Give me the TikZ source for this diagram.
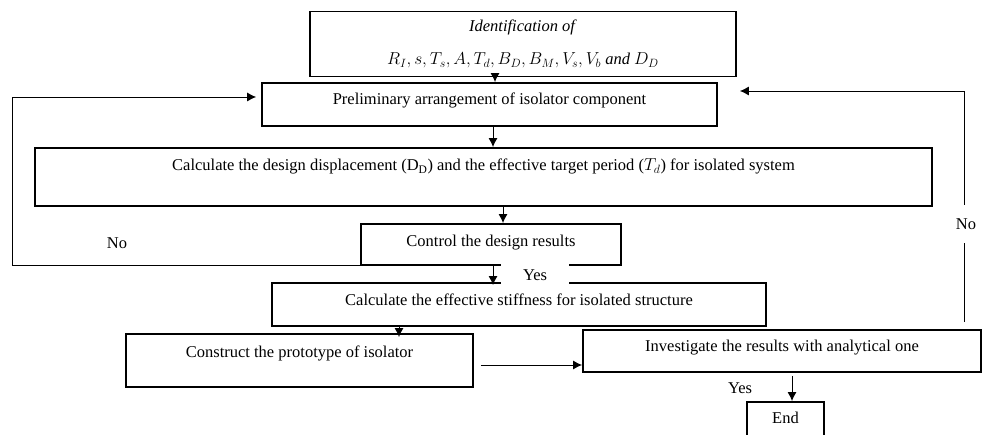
\documentclass[tikz,border=0pt]{standalone}
\usepackage{fontspec}
\setmainfont{Liberation Serif}
\usetikzlibrary{arrows.meta}

\begin{document}
\begin{tikzpicture}[x=1pt, y=-1pt]
        \tikzstyle{every node}=[font=\fontsize{16.5}{19.5}\selectfont, inner sep=0pt]
        \tikzstyle{stepbox}=[draw, line width=1.8pt, anchor=base]
        \tikzstyle{flowarrow}=[line width=1pt, -{Latex[length=9pt,width=9pt]}]
        \tikzstyle{loopline}=[line width=0.8pt, -{Latex[length=9pt,width=9pt]}]
        \tikzstyle{answer}=[fill=white]

        \useasboundingbox (0,0) rectangle (982,435);

% Design steps of the isolator, with the two checks sending back to the arrangement.

        \node[draw, line width=1.8pt, minimum width=426pt, minimum height=65pt, align=center] (ident) at (523,44)
            {\textit{Identification of}\\[14pt] $R_I, s, T_s, A, T_d, B_D, B_M, V_s, V_b$ \textit{and} $D_D$};
        \node[stepbox, minimum width=455pt, text height=22pt, text depth=21pt] (prelim) at (489.5,105)
            {Preliminary arrangement of isolator component};
        \node[stepbox, minimum width=897pt, text height=23pt, text depth=35pt] (calc) at (483.5,171)
            {Calculate the design displacement (D\textsubscript{D}) and the effective target period ($T_d$) for isolated system};
        \node[stepbox, minimum width=260pt, text height=23pt, text depth=18pt] (control) at (491,247)
            {Control the design results};
        \node[stepbox, minimum width=494pt, text height=23pt, text depth=20pt] (stiff) at (519,306)
            {Calculate the effective stiffness for isolated structure};
        \node[stepbox, minimum width=347pt, text height=24pt, text depth=29pt] (proto) at (299.5,358)
            {Construct the prototype of isolator};
        \node[stepbox, minimum width=398pt, text height=22pt, text depth=20pt] (invest) at (782,352)
            {Investigate the results with analytical one};
        \node[stepbox, minimum width=77pt, text height=21pt, text depth=30pt] (endbox) at (785.5,423)
            {End};

        \draw[flowarrow] ([xshift=-28]ident.south) -- ([xshift=5.5]prelim.north);
        \draw[flowarrow] ([xshift=3.5]prelim.south) -- ([xshift=9.5]calc.north);
        \draw[flowarrow] ([xshift=19.5]calc.south) -- ([xshift=12]control.north);
        \draw[flowarrow] ([xshift=2]control.south) -- ([xshift=-26,yshift=-3]stiff.north);
        \draw[flowarrow] ([xshift=-120]stiff.south) -- ([xshift=99.5,yshift=-4]proto.north);
        \draw[flowarrow] ([xshift=7,yshift=-4.5]proto.east) -- ([yshift=-14]invest.west);
        \draw[flowarrow] ([xshift=10,yshift=-3]invest.south) -- ([xshift=6.5]endbox.north);

        \coordinate (leftrail) at (12,97);
        \draw[loopline] (control.south west) -| (leftrail) -- ([xshift=-5,yshift=7.5]prelim.west);
        \draw[loopline] ([xshift=182,yshift=7]invest.north) |- ([xshift=22,yshift=13.5]prelim.east);

        \node (noleft) at (117,243) {No};
        \node[answer, minimum height=38pt] (noright) at (966,224) {No};
        \node[answer, minimum width=68pt, minimum height=24pt] (yesstiff) at (535,275) {Yes};
        \node (yesend) at (740,388) {Yes};

    \end{tikzpicture}
\end{document}
